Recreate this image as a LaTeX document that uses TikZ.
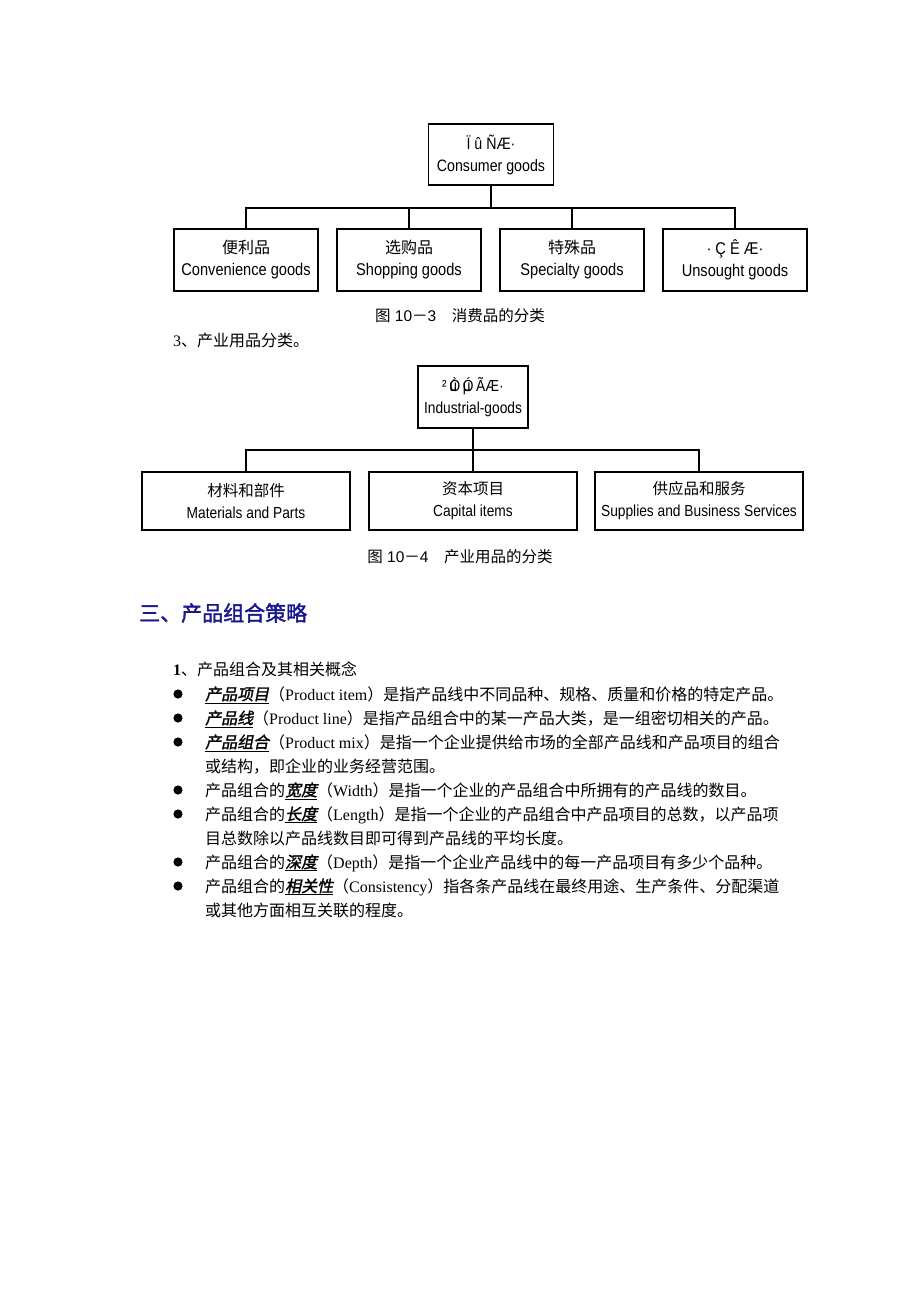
\documentclass[tikz,border=0pt]{standalone}
\usepackage{fontspec}
\setmainfont{Liberation Serif}
\newfontfamily\cjk{Noto Sans CJK SC}
\newfontfamily\cjkem[FakeBold=1.6,FakeSlant=0.2]{Noto Sans CJK SC}
\newfontfamily\cjkbold[FakeBold=1.8]{Noto Sans CJK SC}
\newfontfamily\boxfont[FakeStretch=0.86]{Liberation Sans}
\newfontfamily\capfont{Liberation Sans}
\newcommand{\zh}[1]{{\cjk #1}}
\newcommand{\zem}[1]{\underline{\cjkem #1}}
\definecolor{headblue}{RGB}{24,24,140}
\begin{document}
\begin{tikzpicture}[x=1pt,y=-1pt,
  box/.style={draw, line width=1.4pt, align=center, inner sep=0pt,
    font=\boxfont\fontsize{17}{22}\selectfont},
  boxsmall/.style={box, font=\boxfont\fontsize{16}{22}\selectfont},
  conn/.style={line width=1.4pt},
  captext/.style={inner sep=0pt, font=\capfont\fontsize{15.5}{18}\selectfont},
  txt/.style={anchor=base west, inner sep=0pt, font=\fontsize{16}{20}\selectfont},
  bulletdot/.style={fill=black, draw=none}]
\useasboundingbox (0,0) rectangle (920,1302);
\fill[white] (0,0) rectangle (920,1302);

% ---------- Figure 10-3 ----------
\node[box, font=\boxfont\fontsize{16.5}{22}\selectfont, minimum width=125pt, minimum height=61pt] (cg) at (491,154.5)
  {Ï û ÑÆ·\\Consumer goods};
\node[box, minimum width=144pt, minimum height=62pt] (c1) at (246,260)
  {{\cjk\fontsize{16}{22}\selectfont 便利品}\\Convenience goods};
\node[box, minimum width=144pt, minimum height=62pt] (c2) at (409,260)
  {{\cjk\fontsize{16}{22}\selectfont 选购品}\\Shopping goods};
\node[box, minimum width=144pt, minimum height=62pt] (c3) at (572,260)
  {{\cjk\fontsize{16}{22}\selectfont 特殊品}\\Specialty goods};
\node[box, minimum width=144pt, minimum height=62pt] (c4) at (735,260)
  {· Ç Ê Æ·\\Unsought goods};
\coordinate (j1) at (491,208);
\draw[conn] (cg.south) -- (j1);
\draw[conn] (c1.north) |- (j1) -| (c4.north);
\draw[conn] (c2.north) -- (c2.north |- j1);
\draw[conn] (c3.north) -- (c3.north |- j1);
\node[captext] (cap1) at (460,316) {\zh{图} 10\zh{－}3\zh{　消费品的分类}};

\node[txt] (sec3) at (173,346) {3\zh{、产业用品分类。}};

% ---------- Figure 10-4 ----------
\node[boxsmall, minimum width=110pt, minimum height=62pt] (ig) at (473,397)
  {²\,\rlap{ú}Ò\,\rlap{µ}Ó\,ÃÆ·\\Industrial-goods};
\node[boxsmall, minimum width=208pt, minimum height=58pt] (d1) at (246,501)
  {{\cjk\fontsize{15.5}{22}\selectfont 材料和部件}\\Materials and Parts};
\node[boxsmall, minimum width=208pt, minimum height=58pt] (d2) at (473,501)
  {{\cjk\fontsize{15.5}{22}\selectfont 资本项目}\\Capital items};
\node[boxsmall, minimum width=208pt, minimum height=58pt] (d3) at (699,501)
  {{\cjk\fontsize{15.5}{22}\selectfont 供应品和服务}\\Supplies and Business Services};
\coordinate (j2) at (473,450);
\draw[conn] (ig.south) -- (j2);
\draw[conn] (d1.north) |- (j2) -| (d3.north);
\draw[conn] (d2.north) -- (j2);
\node[captext] (cap2) at (460,557) {\zh{图} 10\zh{－}4\zh{　产业用品的分类}};

% ---------- Section heading ----------
\node[anchor=west, inner sep=0pt, text=headblue, font=\cjkbold\fontsize{21}{24}\selectfont] (head) at (139,613) {三、产品组合策略};

% ---------- Text ----------
\node[txt] (t0) at (173,675) {\textbf{1}\zh{、产品组合及其相关概念}};

\foreach \yy in {694,718,742,790,814,862,886}
  \fill[bulletdot] (178,\yy) circle (4.6pt);

\node[txt] (l1) at (205,700) {\zem{产品项目}\zh{（}Product item\zh{）是指产品线中不同品种、规格、质量和价格的特定产品。}};
\node[txt] (l2) at (205,724) {\zem{产品线}\zh{（}Product line\zh{）是指产品组合中的某一产品大类，是一组密切相关的产品。}};
\node[txt] (l3) at (205,748) {\zem{产品组合}\zh{（}Product mix\zh{）是指一个企业提供给市场的全部产品线和产品项目的组合}};
\node[txt] (l4) at (205,772) {\zh{或结构，即企业的业务经营范围。}};
\node[txt] (l5) at (205,796) {\zh{产品组合的}\zem{宽度}\zh{（}Width\zh{）是指一个企业的产品组合中所拥有的产品线的数目。}};
\node[txt] (l6) at (205,820) {\zh{产品组合的}\zem{长度}\zh{（}Length\zh{）是指一个企业的产品组合中产品项目的总数，以产品项}};
\node[txt] (l7) at (205,844) {\zh{目总数除以产品线数目即可得到产品线的平均长度。}};
\node[txt] (l8) at (205,868) {\zh{产品组合的}\zem{深度}\zh{（}Depth\zh{）是指一个企业产品线中的每一产品项目有多少个品种。}};
\node[txt] (l9) at (205,892) {\zh{产品组合的}\zem{相关性}\zh{（}Consistency\zh{）指各条产品线在最终用途、生产条件、分配渠道}};
\node[txt] (l10) at (205,916) {\zh{或其他方面相互关联的程度。}};
\end{tikzpicture}
\end{document}
